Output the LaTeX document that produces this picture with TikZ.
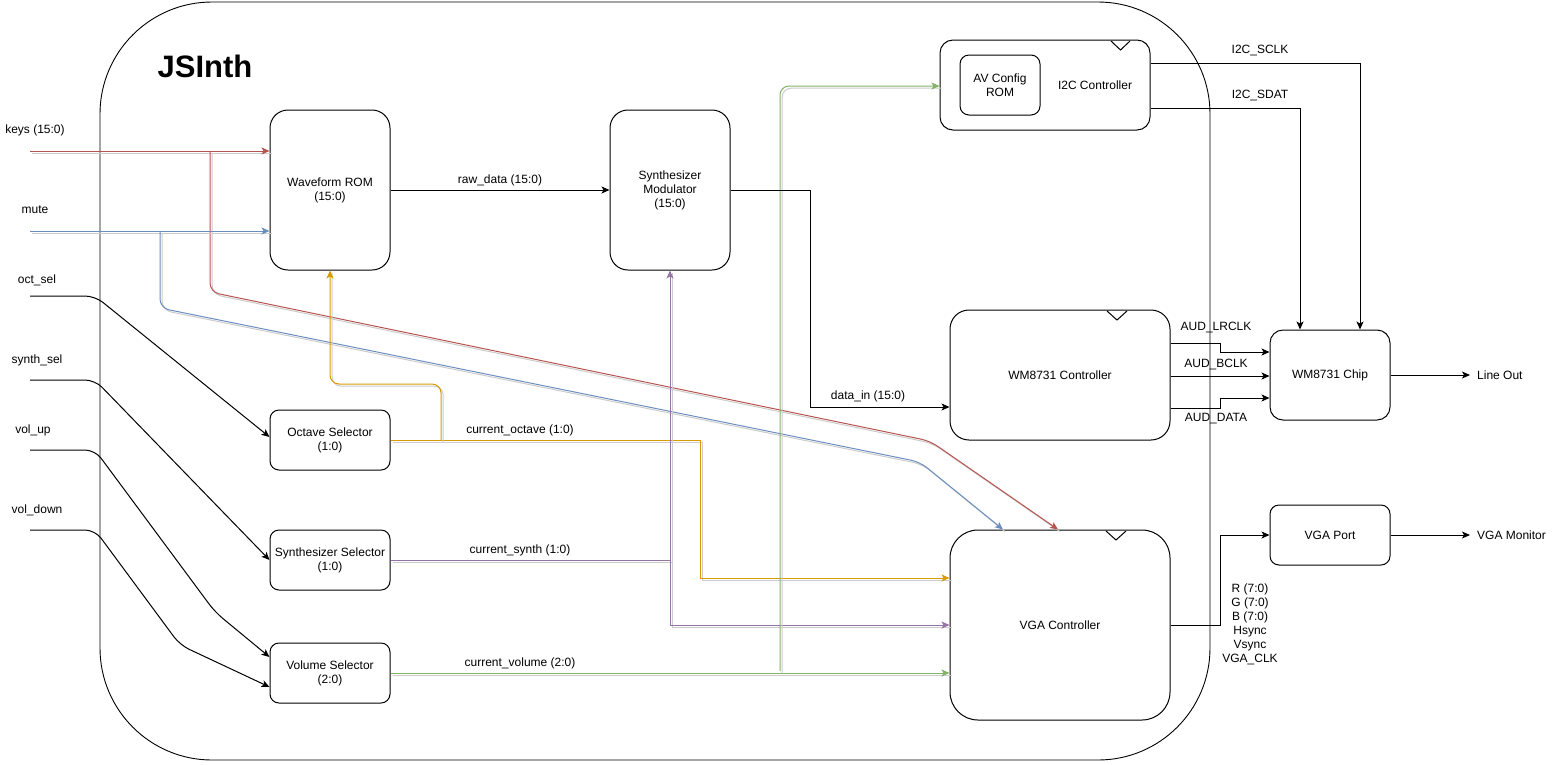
\documentclass[tikz,border=0pt]{standalone}
\usepackage{fontspec}
\setmainfont{Liberation Sans}
\usetikzlibrary{arrows.meta}

\definecolor{kred}{HTML}{B85450}
\definecolor{mblue}{HTML}{6C8EBF}
\definecolor{oorange}{HTML}{D79B00}
\definecolor{spurple}{HTML}{9673A6}
\definecolor{vgreen}{HTML}{82B366}

\tikzset{
  blk/.style={draw, line width=1pt, align=center, inner sep=0pt},
  lbl/.style={inner sep=0pt, align=center},
  plain/.style={line width=1pt},
  wire/.style={line width=1pt, -{Stealth[length=8pt,width=7pt,inset=2pt]}},
  softbend/.style={rounded corners=9pt},
  shadowline/.style={draw=black!20, arrows=-, transform canvas={shift={(2.2pt,-2.2pt)}}},
}
% a coloured signal with its soft grey drop shadow
\newcommand\tinted[2]{\draw[#1,shadowline] #2; \draw[#1] #2;}

\begin{document}
\begin{tikzpicture}[x=1pt,y=-1pt,font=\fontsize{12pt}{14pt}\selectfont]
\useasboundingbox (0,0) rectangle (1552,764);

% enclosing system block
\draw[line width=0.9pt, rounded corners=112pt] (100,2) rectangle (1210,760);
\node[font=\bfseries\fontsize{31pt}{33pt}\selectfont] (title) at (205,66) {JSInth};

% functional blocks
\node[blk, rounded corners=18pt, minimum width=120pt, minimum height=160pt] (wave) at (330,190) {Waveform ROM\\(15:0)};
\node[blk, rounded corners=18pt, minimum width=120pt, minimum height=160pt] (synmod) at (670,190) {Synthesizer\\Modulator\\(15:0)};
\node[blk, rounded corners=13pt, minimum width=210pt, minimum height=90pt] (i2c) at (1045,85) {};
\node[blk, rounded corners=9pt, minimum width=80pt, minimum height=60pt] (avrom) at (1000,85) {AV Config\\ROM};
\node[lbl] (i2ctext) at (1095,85) {I2C Controller};
\node[blk, rounded corners=19pt, minimum width=220pt, minimum height=130pt] (wmc) at (1060,375) {WM8731 Controller};
\node[blk, rounded corners=13pt, minimum width=120pt, minimum height=90pt] (chip) at (1330,375) {WM8731 Chip};
\node[blk, rounded corners=9pt, minimum width=120pt, minimum height=60pt] (vport) at (1330,535) {VGA Port};
\node[blk, rounded corners=28pt, minimum width=220pt, minimum height=190pt] (vga) at (1060,625) {VGA Controller};
\node[blk, rounded corners=9pt, minimum width=120pt, minimum height=60pt] (oct) at (330,440) {Octave Selector\\(1:0)};
\node[blk, rounded corners=9pt, minimum width=120pt, minimum height=60pt] (ssel) at (330,560) {Synthesizer Selector\\(1:0)};
\node[blk, rounded corners=9pt, minimum width=120pt, minimum height=60pt] (vsel) at (330,673) {Volume Selector\\(2:0)};

% clock notches on the controllers
\draw[plain] (1111,41) -- (1120.5,50) -- (1130,41);
\draw[plain] (1107,311) -- (1117,320) -- (1127,311);
\draw[plain] (1106,531) -- (1116,540) -- (1126,531);

% external inputs
\node[lbl] (lkeys) at (35,130) {keys (15:0)};
\node[lbl] (lmute) at (35,210) {mute};
\node[lbl] (loct) at (37,280) {oct\_sel};
\node[lbl] (lsyn) at (37,360) {synth\_sel};
\node[lbl] (lvup) at (33,430) {vol\_up};
\node[lbl] (lvdn) at (37,510) {vol\_down};
\coordinate (kin) at (30,151);
\coordinate (min) at (30,231);
\coordinate (octin) at (30,296);
\coordinate (synin) at (30,380);
\coordinate (vupin) at (30,450);
\coordinate (vdnin) at (30,530);

% keys and mute
\tinted{wire, kred}{(kin) -- (wave.west |- kin)}
\tinted{wire, kred, softbend}{(210,151) -- (210,292) -- (930,441) -- (vga.north -| 1058,0)}
\tinted{wire, mblue}{(min) -- (wave.west |- min)}
\tinted{wire, mblue, softbend}{(160,231) -- (160,308) -- (920,462) -- (vga.north -| 1003,0)}

% selector inputs
\draw[wire, rounded corners=10pt] (octin) -- (95,296) -- (oct.west |- 0,437);
\draw[wire, rounded corners=10pt] (synin) -- (95,380) -- (ssel.west);
\draw[wire, rounded corners=10pt] (vupin) -- (95,450) -- (215,612) -- (vsel.west |- 0,657);
\draw[wire, rounded corners=10pt] (vdnin) -- (95,530) -- (180,645) -- (vsel.west |- 0,687);

% selector outputs
\tinted{wire, oorange}{(oct.east) -- (700,440) -- (700,578) -- (vga.west |- 0,578)}
\tinted{wire, oorange, softbend}{(441,440) -- (441,384) -- (330,384) -- (wave.south)}
\tinted{wire, spurple}{(ssel.east) -- (670,560) -- (synmod.south)}
\tinted{wire, spurple}{(670,560) -- (670,625) -- (vga.west)}
\tinted{wire, vgreen}{(vsel.east) -- (vga.west |- 0,673)}
\tinted{wire, vgreen, softbend}{(780,671) -- (780,86) -- (i2c.west |- 0,86)}
\node[lbl] (loctv) at (520,430) {current\_octave (1:0)};
\node[lbl] (lsynv) at (520,550) {current\_synth (1:0)};
\node[lbl] (lvolv) at (520,663) {current\_volume (2:0)};

% audio data path
\draw[wire] (wave.east) -- (synmod.west);
\node[lbl] (lraw) at (500,180) {raw\_data (15:0)};
\draw[wire] (synmod.east) -- (810,190) -- (810,407) -- (wmc.west |- 0,407);
\node[lbl] (ldin) at (868,396) {data\_in (15:0)};

% I2C control bus
\draw[wire] (i2c.east |- 0,63) -- (1360,63) -- (chip.north -| 1360,0);
\draw[wire] (i2c.east |- 0,108) -- (1300,108) -- (chip.north -| 1300,0);
\node[lbl] (lsclk) at (1260,50) {I2C\_SCLK};
\node[lbl] (lsdat) at (1260,95) {I2C\_SDAT};

% digital audio interface
\draw[wire] (wmc.east |- 0,343) -- (1220,343) -- (1220,352) -- (chip.west |- 0,352);
\draw[wire] (wmc.east |- 0,376) -- (chip.west |- 0,376);
\draw[wire] (wmc.east |- 0,408) -- (1220,408) -- (1220,398) -- (chip.west |- 0,398);
\node[lbl] (llr) at (1216,327) {AUD\_LRCLK};
\node[lbl] (lbc) at (1216,364) {AUD\_BCLK};
\node[lbl] (lda) at (1216,419) {AUD\_DATA};
\node[lbl, anchor=west, inner xsep=7pt] (lout) at (1470,375) {Line Out};
\draw[wire] (chip.east) -- (lout.west);

% video output
\draw[wire] (vga.east) -- (1220,625) -- (1220,535) -- (vport.west);
\node[lbl] (lvsig) at (1250,624) {R (7:0)\\G (7:0)\\B (7:0)\\Hsync\\Vsync\\VGA\_CLK};
\node[lbl, anchor=west, inner xsep=7pt] (lmon) at (1470,535) {VGA Monitor};
\draw[wire] (vport.east) -- (lmon.west);

\end{tikzpicture}
\end{document}
